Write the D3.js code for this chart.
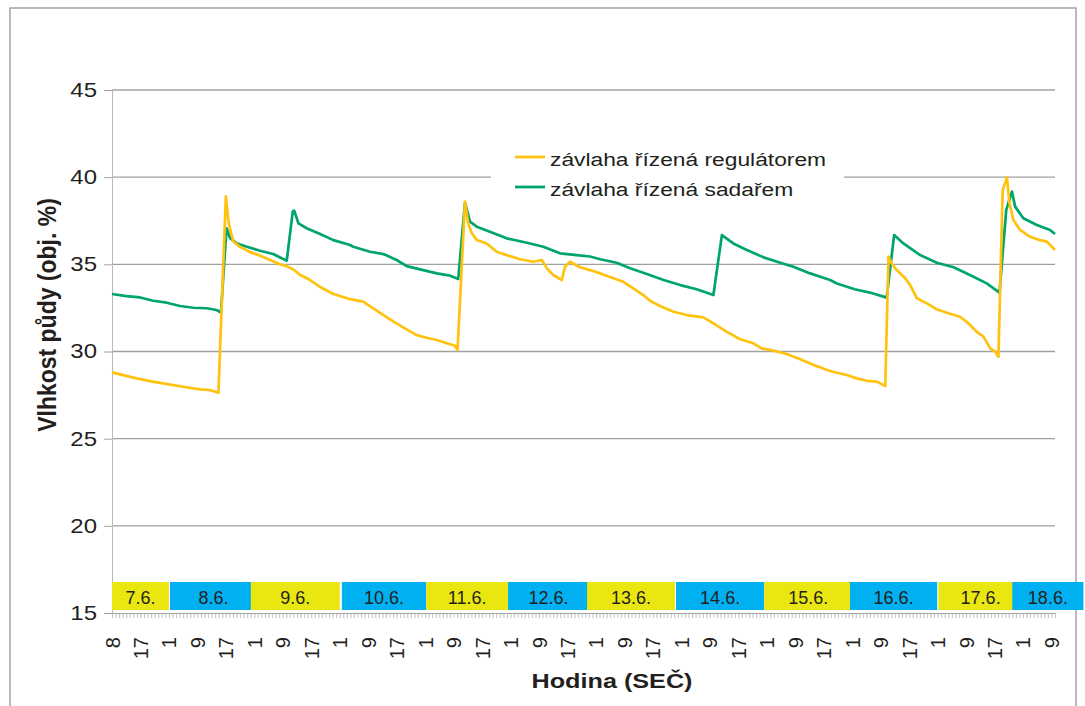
<!DOCTYPE html>
<html lang="cs">
<head>
<meta charset="utf-8">
<title>Vlhkost půdy</title>
<script src="https://d3js.org/d3.v7.min.js"></script>
<style>
  body { margin: 0; background: #fff; }
  svg { font-family: "Liberation Sans", Arial, sans-serif; }
</style>
</head>
<body>
<div id="chart"></div>
<script>
// hour labels on the category axis, one every 8 categories
const hourLabels = ['8',
  '17','1','9', '17','1','9', '17','1','9', '17','1','9',
  '17','1','9', '17','1','9', '17','1','9', '17','1','9',
  '17','1','9', '17','1','9', '17','1','9'];
const yTicks = [15, 20, 25, 30, 35, 40, 45];

// day boxes (category index where each box starts / ends)
const dates = ['7.6.','8.6.','9.6.','10.6.','11.6.','12.6.','13.6.','14.6.','15.6.','16.6.','17.6.','18.6.'];
const dateFrom = [0, 16.3, 39, 64.6, 88.3, 111.3, 133.5, 158.5, 183.3, 207.4, 232.2, 253];
const dateTo   = [16, 40.8, 64, 88.3, 111.3, 134, 158.2, 183.3, 208, 231.9, 256, 273];

// [category index, soil moisture %]
const regulator = [
  [0,28.8],[6,28.5],[10.7,28.3],[15.5,28.13],[20,27.98],[24.7,27.83],[27.5,27.79],[29.9,27.63],
  [32,38.9],[32.7,37.5],[33.2,37.0],[34.1,36.3],[36,36.0],[38.8,35.7],[41.6,35.5],[44.4,35.25],
  [47.2,35.0],[49.1,34.9],[51,34.7],[52.8,34.4],[55.7,34.1],[58.5,33.7],[62.2,33.3],[66.9,33.0],
  [70.6,32.86],[73.4,32.48],[76.3,32.09],[79.1,31.71],[82.8,31.27],[85.6,30.94],[88.4,30.79],
  [91.3,30.66],[94.1,30.47],[96.4,30.33],[97.1,30.08],[99.2,38.6],[100.1,37.35],[101.1,36.78],
  [102.5,36.4],[105.3,36.2],[108.1,35.72],[110.9,35.53],[114.7,35.29],[118.4,35.15],[120.8,35.25],
  [122.2,34.77],[124,34.39],[126.4,34.1],[127.3,34.86],[128.7,35.15],[131.5,34.83],[134.3,34.67],
  [137.2,34.48],[140.9,34.2],[143.7,34.0],[146.5,33.62],[149.3,33.24],[151.2,32.91],[154,32.61],
  [157.8,32.28],[161.5,32.09],[166.2,31.96],[169,31.61],[172.8,31.13],[176.5,30.7],[180.2,30.47],
  [182.6,30.18],[185.9,30.05],[189.6,29.86],[193.4,29.55],[197.2,29.22],[199,29.1],[200.9,28.94],
  [203.7,28.78],[206.5,28.65],[209.3,28.46],[212.1,28.32],[214.9,28.27],[217.3,28.02],[218.2,35.44],
  [219.1,35.06],[220.5,34.67],[222.9,34.2],[224.3,33.81],[226.2,33.05],[229,32.76],[231.8,32.42],
  [234.6,32.22],[238.3,31.99],[240.7,31.61],[243,31.13],[244.9,30.85],[246.8,30.18],[248.2,29.99],
  [249.1,29.7],[250.3,39.26],[251.5,39.99],[252.2,38.5],[253.3,37.54],[255.2,36.97],[258,36.58],
  [260.8,36.39],[262.7,36.3],[265,35.82]
];
const grower = [
  [0,33.3],[4.1,33.18],[7.9,33.1],[11.6,32.91],[15.4,32.8],[19.1,32.61],[22.9,32.51],[26.6,32.48],
  [29.4,32.38],[30.6,32.23],[32.2,37.07],[33.2,36.5],[35,36.21],[37.9,36.01],[41.6,35.78],
  [45.3,35.59],[49.1,35.21],[50.8,38.03],[51.2,38.08],[52.4,37.35],[54.7,37.07],[58.5,36.74],
  [62.2,36.39],[66.9,36.11],[67.8,36.01],[72.5,35.72],[76.3,35.59],[80,35.25],[82.8,34.9],
  [86.6,34.71],[91.3,34.48],[95,34.35],[97.3,34.16],[99.2,38.54],[100.6,37.45],[102.5,37.16],
  [106.2,36.87],[110.9,36.49],[116.6,36.24],[121.2,36.01],[125.9,35.63],[130.6,35.53],[134.3,35.45],
  [137.2,35.29],[141.8,35.09],[145.6,34.77],[150.3,34.44],[155,34.1],[159.7,33.81],[164.3,33.57],
  [169,33.24],[171.4,36.68],[174.6,36.2],[178.4,35.82],[183.1,35.4],[187.8,35.09],[191.5,34.86],
  [196.2,34.48],[201.8,34.1],[203.7,33.9],[208.7,33.57],[213,33.38],[217.7,33.09],[219.8,36.68],
  [222.4,36.2],[227.1,35.53],[231.8,35.09],[236.5,34.83],[241.1,34.39],[245.8,33.91],[249.4,33.38],
  [251.3,38.12],[252.9,39.17],[253.8,38.31],[256.1,37.64],[259.9,37.26],[263.6,36.97],[265,36.74]
];
const seriesNames = ['závlaha řízená regulátorem', 'závlaha řízená sadařem'];

const W = 1085, H = 706;
const x0 = 112, x1 = 1055, yTop = 90, yBot = 613;
const nCat = 265;
const YELLOW = '#ffc20e', GREEN = '#00a56c';
const TXT = '#231f20';

const svg = d3.select('#chart').append('svg').attr('width', W).attr('height', H);

const x = d3.scaleLinear().domain([0, nCat]).range([x0, x1]);
const y = d3.scaleLinear().domain([15, 45]).range([yBot, yTop]);

// outer frame
svg.append('rect').attr('x', 10).attr('y', 8).attr('width', 1066).attr('height', 720)
  .attr('fill', 'none').attr('stroke', '#8c8c8c').attr('stroke-width', 1.2);

// gridlines
svg.append('g').selectAll('line').data(yTicks.filter(d => d > 15)).enter().append('line')
  .attr('x1', x0).attr('x2', x1).attr('y1', d => y(d)).attr('y2', d => y(d))
  .attr('stroke', '#a0a0a0').attr('stroke-width', 1.3);

// y axis
const gy = svg.append('g').attr('transform', `translate(${x0},0)`)
  .call(d3.axisLeft(y).tickValues(yTicks).tickSize(8).tickSizeOuter(0));
gy.select('.domain').attr('stroke', '#b8b8b8');
gy.selectAll('.tick line').attr('stroke', '#a0a0a0');
gy.selectAll('.tick text').attr('font-size', 20).attr('fill', TXT)
  .attr('x', -15 / 1.2).attr('transform', 'scale(1.2,1)')
  .style('font-family', '"Liberation Sans", Arial, sans-serif');

// x axis: small tick for every category, label every 8th
const gx = svg.append('g').attr('transform', `translate(0,${yBot})`)
  .call(d3.axisBottom(x).tickValues(d3.range(0, nCat + 1)).tickSize(5).tickSizeOuter(0)
    .tickFormat(i => i % 8 === 0 ? hourLabels[i / 8] : ''));
gx.select('.domain').attr('stroke', '#a0a0a0');
gx.selectAll('.tick line').attr('stroke', '#b0b0b0').attr('stroke-width', 0.8);
gx.selectAll('.tick text').attr('font-size', 20).attr('fill', TXT)
  .attr('transform', 'rotate(-90)').attr('text-anchor', 'end')
  .attr('x', -24).attr('y', 0).attr('dy', '0.35em')
  .style('font-family', '"Liberation Sans", Arial, sans-serif');

// day boxes
const days = svg.append('g');
dates.forEach((d, i) => {
  const bx = x(dateFrom[i]), bw = x(dateTo[i]) - x(dateFrom[i]);
  days.append('rect').attr('x', bx).attr('y', yBot - 31).attr('width', bw).attr('height', 28)
    .attr('fill', i % 2 ? '#00b0f0' : '#e9e70f');
  days.append('text').attr('x', bx + bw / 2).attr('y', yBot - 9)
    .attr('text-anchor', 'middle').attr('font-size', 18).attr('fill', TXT).text(d);
});

// lines
const line = d3.line().x(d => x(d[0])).y(d => y(d[1]));
svg.append('path').datum(grower).attr('d', line).attr('fill', 'none')
  .attr('stroke', GREEN).attr('stroke-width', 2.7).attr('stroke-linejoin', 'round');
svg.append('path').datum(regulator).attr('d', line).attr('fill', 'none')
  .attr('stroke', YELLOW).attr('stroke-width', 2.7).attr('stroke-linejoin', 'round');

// legend
const lg = svg.append('g');
lg.append('rect').attr('x', 491).attr('y', 142).attr('width', 353).attr('height', 64).attr('fill', '#fff');
[YELLOW, GREEN].forEach((c, i) => {
  const ly = 157 + i * 30;
  lg.append('line').attr('x1', 515).attr('x2', 545).attr('y1', ly).attr('y2', ly)
    .attr('stroke', c).attr('stroke-width', 2.8);
  lg.append('text').attr('transform', `translate(550,${ly + 9}) scale(1.2,1)`)
    .attr('font-size', 19).attr('fill', TXT).text(seriesNames[i]);
});

// axis titles
svg.append('text').attr('transform', `translate(612,688) scale(1.2,1)`)
  .attr('text-anchor', 'middle').attr('font-size', 21).attr('font-weight', 'bold')
  .attr('fill', TXT).text('Hodina (SEČ)');
svg.append('text').attr('transform', `translate(56,315) scale(1.15,1) rotate(-90)`)
  .attr('text-anchor', 'middle').attr('font-size', 23).attr('font-weight', 'bold')
  .attr('fill', TXT).text('Vlhkost půdy (obj. %)');
</script>
</body>
</html>
